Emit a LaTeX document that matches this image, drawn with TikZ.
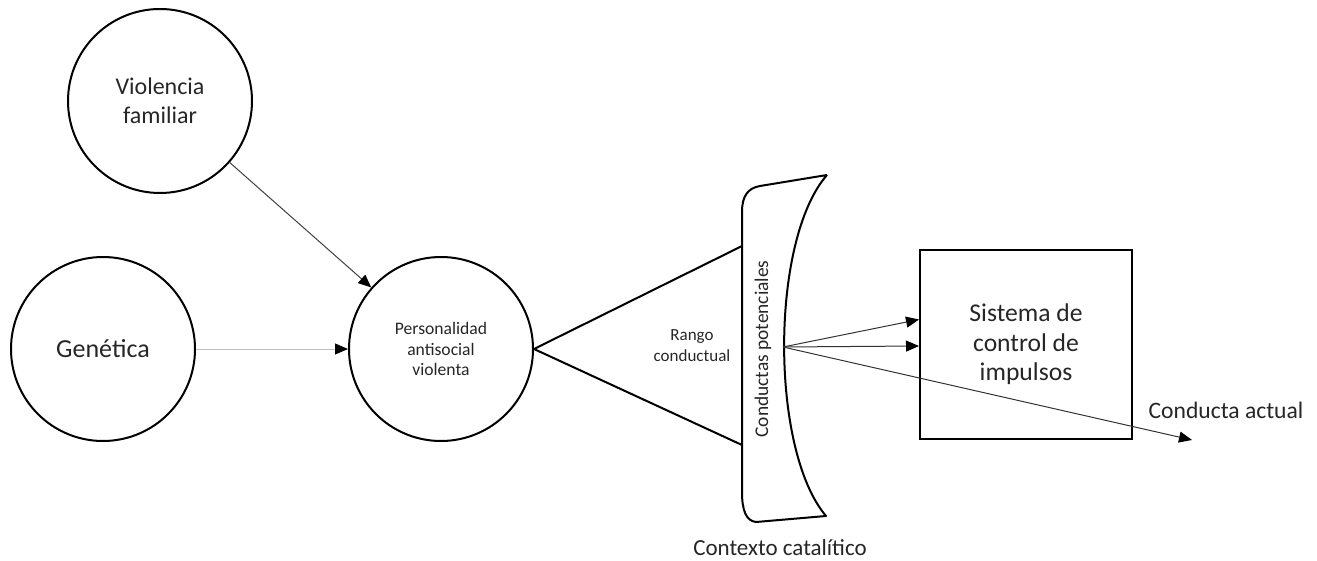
\documentclass[tikz,border=0pt]{standalone}
\usepackage{fontspec}
\setmainfont{Carlito}
\usetikzlibrary{positioning,calc,arrows.meta}
\tikzset{circ/.style={draw,circle,line width=1pt,minimum size=92pt,inner sep=0pt,align=center,text=black!85},
         block/.style={draw,line width=1pt,minimum width=106pt,minimum height=94.5pt,inner sep=0pt,align=center,text=black!85},
         txt/.style={draw=none,align=center,inner sep=0pt,text=black!85},
         line/.style={line width=0.5pt,-{Triangle[length=6.5pt,width=5.5pt,color=black]}}
}

\begin{document}
\begin{tikzpicture}[x=0.5pt,y=-0.5pt]
\useasboundingbox (0,0) rectangle (1317,561);

\node[circ,font=\fontsize{8.8}{10.3}\selectfont] (pers) at (441,349) {Personalidad\\antisocial\\violenta};
\node[circ,font=\fontsize{13}{15}\selectfont,left=76pt of pers] (gen) {Genética};
\node[circ,font=\fontsize{12}{14.5}\selectfont] (viol) at (160,101) {Violencia\\familiar};
\node[block,font=\fontsize{12.8}{14.75}\selectfont] (ctrl) at (1026,344.5) {Sistema de\\control de\\impulsos};

% contexto catalitico
\draw[line width=1pt,line join=round] (827,175) -- (760,186) .. controls (748,188) and (742,196) .. (742,212)
  -- (742,492) .. controls (742,510) and (746,521) .. (756,522) -- (826,516)
  .. controls (770,450) and (770,240) .. (827,175);
\coordinate (tu) at (742,246);
\coordinate (tl) at (742,445);
\coordinate (cp) at (783,347);
\coordinate (act) at (1192,440);

\node[txt,rotate=90,font=\fontsize{9.7}{11}\selectfont] (pot) at (763,349) {Conductas potenciales};
\node[txt,font=\fontsize{8.5}{10.5}\selectfont] (rango) at (692,346) {Rango\\conductual};
\node[txt,font=\fontsize{11.5}{13}\selectfont] (ctx) at (780,548) {Contexto catalítico};
\node[txt,font=\fontsize{11.8}{13}\selectfont] (actual) at (1226,410) {Conducta actual};

\draw[line width=1pt,line join=round] (tu)--(pers.east)--(tl);
\draw[line,black!75] (viol)--(pers);
\draw[line,black!25] (gen)--(pers);
\draw[line,black!80] (cp)--($(ctrl.west)+(0,-25)$);
\draw[line,black!80] (cp)--($(ctrl.west)+(0,1.5)$);
\draw[line,black!80] (cp)--(act);

\end{tikzpicture}
\end{document}
